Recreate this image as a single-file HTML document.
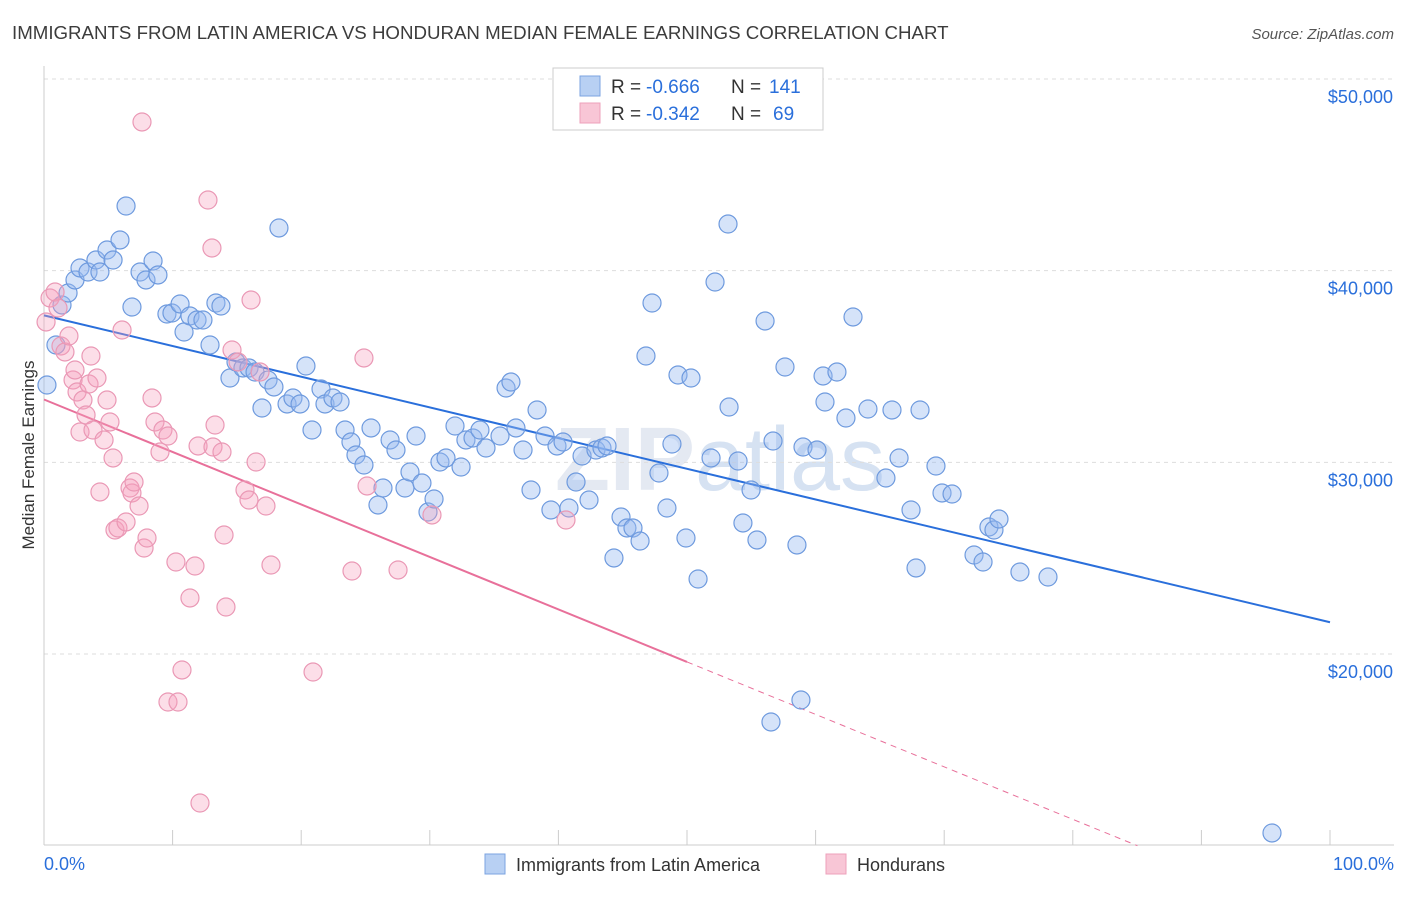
<!DOCTYPE html>
<html><head><meta charset="utf-8"><style>
body{margin:0;background:#fff;font-family:"Liberation Sans",sans-serif}
svg text{font-family:"Liberation Sans",sans-serif}
</style></head><body>
<svg id="chart" width="1406" height="892" xmlns="http://www.w3.org/2000/svg">
<text x="12" y="39" font-size="18.7" fill="#3c3c3c">IMMIGRANTS FROM LATIN AMERICA VS HONDURAN MEDIAN FEMALE EARNINGS CORRELATION CHART</text>
<text x="1394" y="39" font-size="15" fill="#555" text-anchor="end" font-style="italic">Source: ZipAtlas.com</text>
<text x="720" y="490" font-size="90" fill="#e4e9f2" text-anchor="middle" font-weight="bold">ZIP<tspan font-weight="normal" fill="#d6e2f2">atlas</tspan></text>
<g id="grid"></g><g id="axes"></g><g id="lines"></g><g id="pts"></g>
<text transform="translate(34,455) rotate(-90)" font-size="17" fill="#333" text-anchor="middle">Median Female Earnings</text>
<text x="44" y="870" font-size="18" fill="#2a6fdb">0.0%</text>
<text x="1394" y="870" font-size="18" fill="#2a6fdb" text-anchor="end">100.0%</text>
<g>
<rect x="553" y="68" width="270" height="62" fill="#fff" stroke="#ccc"/>
<rect x="580" y="76" width="20" height="20" fill="#b8d0f3" stroke="#7ba3e0"/>
<rect x="580" y="103" width="20" height="20" fill="#f8c6d6" stroke="#eea0bb"/>
<text x="611" y="93" font-size="19" fill="#333">R =</text>
<text x="646" y="93" font-size="19" fill="#2a6fdb">-0.666</text>
<text x="731" y="93" font-size="19" fill="#333">N =</text>
<text x="769" y="93" font-size="19" fill="#2a6fdb">141</text>
<text x="611" y="120" font-size="19" fill="#333">R =</text>
<text x="646" y="120" font-size="19" fill="#2a6fdb">-0.342</text>
<text x="731" y="120" font-size="19" fill="#333">N =</text>
<text x="773" y="120" font-size="19" fill="#2a6fdb">69</text>
</g>
<g>
<rect x="485" y="854" width="20" height="20" fill="#b8d0f3" stroke="#7ba3e0"/>
<text x="516" y="871" font-size="18" fill="#333">Immigrants from Latin America</text>
<rect x="826" y="854" width="20" height="20" fill="#f8c6d6" stroke="#eea0bb"/>
<text x="857" y="871" font-size="18" fill="#333">Hondurans</text>
</g>
</svg>
<script>
const yTicks=[20000,30000,40000,50000];
const yTickLabels=["$20,000","$30,000","$40,000","$50,000"];
const bluePx=[[47,385],[56,345],[62,305],[68,293],[75,280],[80,268],[88,272],[96,260],[100,272],[107,250],[113,260],[120,240],[126,206],[132,307],[140,272],[146,280],[153,261],[158,275],[167,314],[172,313],[180,304],[184,332],[190,316],[197,320],[203,320],[210,345],[216,303],[221,306],[230,378],[236,362],[243,368],[249,368],[255,372],[262,408],[268,380],[274,387],[279,228],[287,404],[293,398],[300,404],[306,366],[312,430],[321,389],[325,404],[333,398],[340,402],[345,430],[351,442],[356,455],[364,465],[371,428],[378,505],[383,488],[390,440],[396,450],[405,488],[410,472],[416,436],[422,483],[428,512],[434,499],[440,462],[446,458],[455,426],[461,467],[466,440],[473,438],[480,430],[486,448],[500,436],[506,388],[511,382],[516,428],[523,450],[531,490],[537,410],[545,436],[551,510],[557,446],[563,442],[569,508],[576,482],[582,456],[589,500],[596,450],[602,448],[607,446],[614,558],[621,517],[627,528],[633,528],[640,541],[646,356],[652,303],[659,473],[667,508],[672,444],[678,375],[686,538],[691,378],[698,579],[711,458],[715,282],[728,224],[729,407],[738,461],[743,523],[751,490],[757,540],[765,321],[773,441],[785,367],[797,545],[803,447],[817,450],[823,376],[825,402],[837,372],[846,418],[853,317],[868,409],[886,478],[892,410],[899,458],[911,510],[916,568],[920,410],[936,466],[942,493],[952,494],[974,555],[983,562],[989,527],[994,530],[999,519],[1020,572],[1048,577],[771,722],[801,700],[1272,833]];
const pinkPx=[[46,322],[50,298],[55,292],[58,308],[61,346],[65,352],[69,336],[73,380],[75,370],[77,392],[80,432],[83,400],[86,415],[89,384],[91,356],[93,430],[97,378],[100,492],[104,440],[107,400],[110,422],[113,458],[115,530],[118,528],[122,330],[126,522],[130,488],[132,493],[134,482],[139,506],[142,122],[144,548],[147,538],[152,398],[155,422],[160,452],[163,430],[168,436],[176,562],[182,670],[190,598],[195,566],[198,446],[208,200],[212,248],[213,447],[215,425],[222,452],[224,535],[226,607],[232,350],[238,362],[245,490],[249,500],[251,300],[256,462],[260,372],[266,506],[271,565],[313,672],[352,571],[364,358],[367,486],[398,570],[432,515],[566,520],[168,702],[178,702],[200,803]];
const blueX=bluePx.map(p=>+((p[0]-44)/12.86).toFixed(2));
const blueY=bluePx.map(p=>Math.round(50000-(p[1]-79)*52.17));
const pinkX=pinkPx.map(p=>+((p[0]-44)/12.86).toFixed(2));
const pinkY=pinkPx.map(p=>Math.round(50000-(p[1]-79)*52.17));
const blueFit=[37670,21660];
const pinkFit=[33280,19590];
const NS="http://www.w3.org/2000/svg";
const X=v=>44+v*12.86, Y=v=>79+(50000-v)/52.17;
function mk(parent,tag,attrs){const e=document.createElementNS(NS,tag);for(const k in attrs)e.setAttribute(k,attrs[k]);document.getElementById(parent).appendChild(e);return e;}
yTicks.forEach((t,i)=>{
 const l=mk('grid','line',{x1:44,x2:1394,y1:Y(t),y2:Y(t),stroke:'#ddd','stroke-dasharray':'4,4'});
 
 
 const tx=mk('grid','text',{x:1393,y:Y(t)+24,'font-size':18,fill:'#2a6fdb','text-anchor':'end'});
 tx.textContent=yTickLabels[i];
 
 
});
mk('axes','line',{x1:44,x2:44,y1:66,y2:845,stroke:'#ccc'});
mk('axes','line',{x1:44,x2:1394,y1:845,y2:845,stroke:'#ccc'});
for(let i=0;i<=10;i++){const t=mk('axes','line',{x1:X(i*10),x2:X(i*10),y1:830,y2:845,stroke:'#ccc'});
 
 }
function pts(xs,ys,fill,stroke,name){xs.forEach((x,i)=>{const c=mk('pts','circle',{cx:X(x),cy:Y(ys[i]),r:9,fill:fill,stroke:stroke,'stroke-width':1.2});
 
 });}
pts(blueX,blueY,'rgba(150,185,240,0.4)','#6e9ade','blue-point');
pts(pinkX,pinkY,'rgba(245,160,190,0.35)','#ea98b5','pink-point');
const bl=mk('lines','line',{x1:X(0),y1:Y(blueFit[0]),x2:X(100),y2:Y(blueFit[1]),stroke:'#2a6fdb','stroke-width':2});


const pl=mk('lines','line',{x1:X(0),y1:Y(pinkFit[0]),x2:X(50),y2:Y(pinkFit[1]),stroke:'#e8709a','stroke-width':2});


const slope=(pinkFit[1]-pinkFit[0])/50;const xe=50+(10000-pinkFit[1])/slope;
const pd=mk('lines','line',{x1:X(50),y1:Y(pinkFit[1]),x2:X(xe),y2:Y(10000),stroke:'#e8709a','stroke-width':1,'stroke-dasharray':'6,5'});


</script>
</body></html>
